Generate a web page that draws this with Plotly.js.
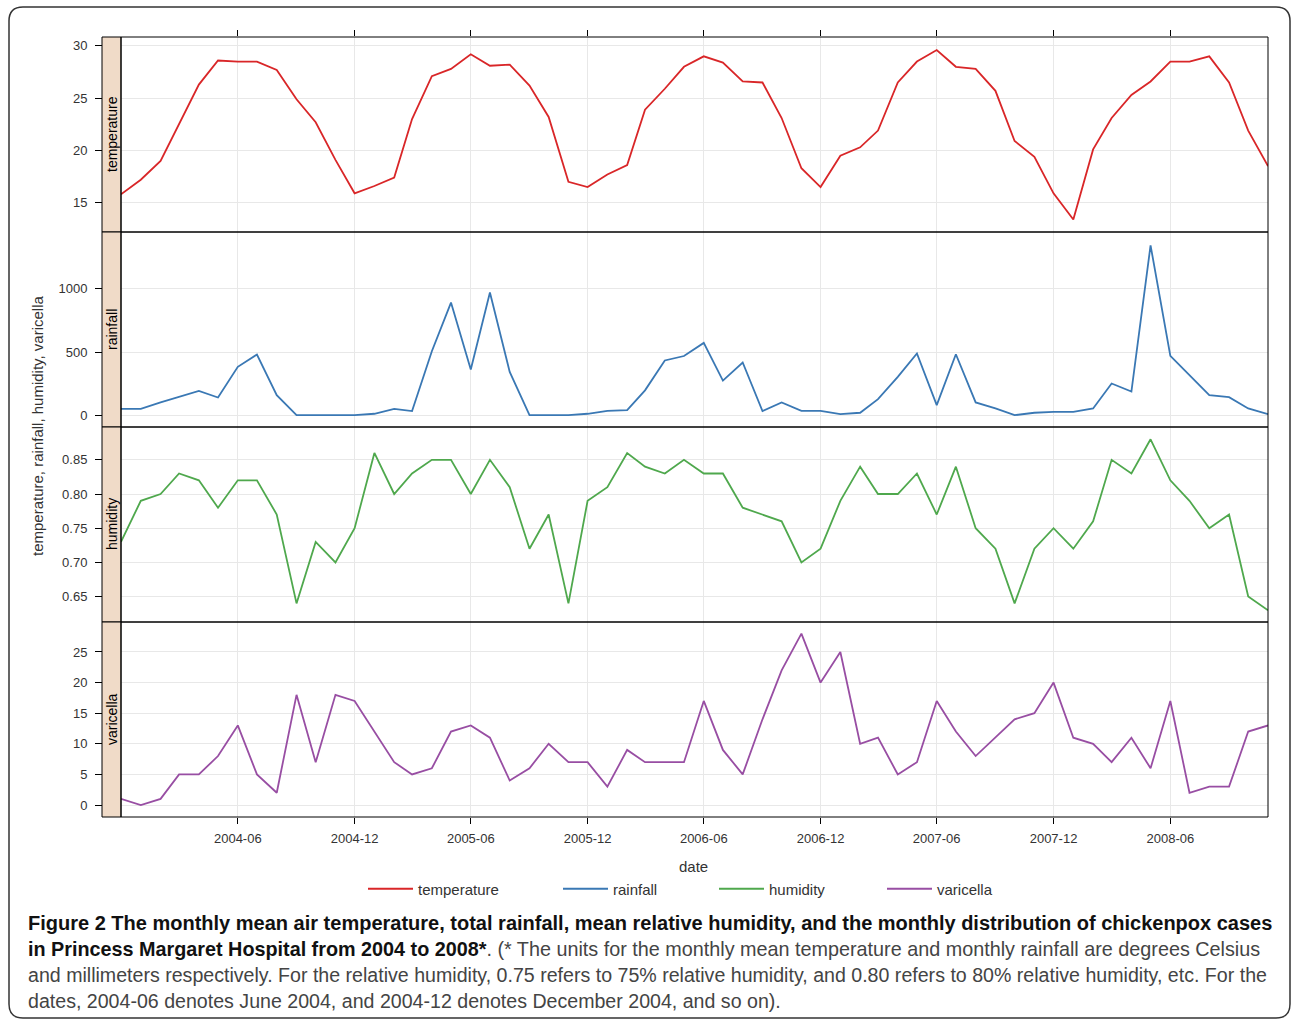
<!DOCTYPE html>
<html>
<head>
<meta charset="utf-8">
<script src="https://cdn.plot.ly/plotly-3.0.1.min.js"></script>
<style>
  html, body { margin: 0; padding: 0; background: #ffffff; }
  #chart { width: 1292px; height: 1021px; }
</style>
</head>
<body>
<div id="chart"></div>
<script>
// ---- data ----
const dates = [
  '2003-12-01','2004-01-01','2004-02-01','2004-03-01','2004-04-01','2004-05-01',
  '2004-06-01','2004-07-01','2004-08-01','2004-09-01','2004-10-01','2004-11-01',
  '2004-12-01','2005-01-01','2005-02-01','2005-03-01','2005-04-01','2005-05-01',
  '2005-06-01','2005-07-01','2005-08-01','2005-09-01','2005-10-01','2005-11-01',
  '2005-12-01','2006-01-01','2006-02-01','2006-03-01','2006-04-01','2006-05-01',
  '2006-06-01','2006-07-01','2006-08-01','2006-09-01','2006-10-01','2006-11-01',
  '2006-12-01','2007-01-01','2007-02-01','2007-03-01','2007-04-01','2007-05-01',
  '2007-06-01','2007-07-01','2007-08-01','2007-09-01','2007-10-01','2007-11-01',
  '2007-12-01','2008-01-01','2008-02-01','2008-03-01','2008-04-01','2008-05-01',
  '2008-06-01','2008-07-01','2008-08-01','2008-09-01','2008-10-01','2008-11-01'
];
const temperature = [
  15.8, 17.2, 19.0, 22.6, 26.3, 28.6, 28.5, 28.5, 27.7, 24.9, 22.7, 19.1,
  15.9, 16.6, 17.4, 23.0, 27.1, 27.8, 29.2, 28.1, 28.2, 26.2, 23.2, 17.0,
  16.5, 17.7, 18.6, 23.9, 25.9, 28.0, 29.0, 28.4, 26.6, 26.5, 23.1, 18.3,
  16.5, 19.5, 20.3, 21.9, 26.5, 28.5, 29.6, 28.0, 27.8, 25.7, 20.9, 19.4,
  15.9, 13.4, 20.1, 23.1, 25.3, 26.6, 28.5, 28.5, 29.0, 26.5, 21.9, 18.5
];
const rainfall = [
  55, 55, 105, 150, 196, 144, 385, 482, 162, 5, 5, 5,
  5, 16, 55, 37, 508, 890, 364, 969, 345, 5, 5, 5,
  16, 39, 45, 200, 435, 470, 573, 277, 419, 37, 105, 39,
  39, 13, 24, 131, 306, 490, 84, 484, 105, 58, 5, 24,
  31, 31, 58, 254, 191, 1340, 471, 319, 162, 147, 58, 13
];
const humidity = [
  0.73, 0.79, 0.80, 0.83, 0.82, 0.78, 0.82, 0.82, 0.77, 0.64, 0.73, 0.70,
  0.75, 0.86, 0.80, 0.83, 0.85, 0.85, 0.80, 0.85, 0.81, 0.72, 0.77, 0.64,
  0.79, 0.81, 0.86, 0.84, 0.83, 0.85, 0.83, 0.83, 0.78, 0.77, 0.76, 0.70,
  0.72, 0.79, 0.84, 0.80, 0.80, 0.83, 0.77, 0.84, 0.75, 0.72, 0.64, 0.72,
  0.75, 0.72, 0.76, 0.85, 0.83, 0.88, 0.82, 0.79, 0.75, 0.77, 0.65, 0.63
];
const varicella = [
  1, 0, 1, 5, 5, 8, 13, 5, 2, 18, 7, 18,
  17, 12, 7, 5, 6, 12, 13, 11, 4, 6, 10, 7,
  7, 3, 9, 7, 7, 7, 17, 9, 5, 14, 22, 28,
  20, 25, 10, 11, 5, 7, 17, 12, 8, 11, 14, 15,
  20, 11, 10, 7, 11, 6, 17, 2, 3, 3, 12, 13
];
const seriesNames = ['temperature', 'rainfall', 'humidity', 'varicella'];
const seriesColors = ['#D92628', '#3A78B4', '#4FA84D', '#984EA3'];
const dateTickVals = ['2004-06-01','2004-12-01','2005-06-01','2005-12-01','2006-06-01',
                      '2006-12-01','2007-06-01','2007-12-01','2008-06-01'];
const dateTickText = ['2004-06','2004-12','2005-06','2005-12','2006-06',
                      '2006-12','2007-06','2007-12','2008-06'];
const tempTicks = [15, 20, 25, 30];
const rainTicks = [0, 500, 1000];
const humTicks = [0.65, 0.70, 0.75, 0.80, 0.85];
const varTicks = [0, 5, 10, 15, 20, 25];
const captionLines = [
  '<b>Figure 2 The monthly mean air temperature, total rainfall, mean relative humidity, and the monthly distribution of chickenpox cases</b>',
  '<b>in Princess Margaret Hospital from 2004 to 2008*</b>. (* The units for the monthly mean temperature and monthly rainfall are degrees Celsius',
  'and millimeters respectively. For the relative humidity, 0.75 refers to 75% relative humidity, and 0.80 refers to 80% relative humidity, etc. For the',
  'dates, 2004-06 denotes June 2004, and 2004-12 denotes December 2004, and so on).'
];

// ---- geometry helpers (pixels -> paper) ----
const W = 1292, H = 1021;
const M = { l: 80, r: 24, t: 37, b: 204 };
const PW = W - M.l - M.r, PH = H - M.t - M.b;
const px = x => (x - M.l) / PW;
const py = y => (H - M.b - y) / PH;

const FONT = 'Liberation Sans, Arial, sans-serif';
const GRID = '#e8e8e8';

const traces = [
  { y: temperature, xaxis: 'x',  yaxis: 'y',  legend: 'legend'  },
  { y: rainfall,    xaxis: 'x2', yaxis: 'y2', legend: 'legend2' },
  { y: humidity,    xaxis: 'x3', yaxis: 'y3', legend: 'legend3' },
  { y: varicella,   xaxis: 'x4', yaxis: 'y4', legend: 'legend4' }
].map((t, i) => Object.assign({
  type: 'scatter', mode: 'lines', x: dates, name: seriesNames[i],
  line: { color: seriesColors[i], width: 1.8 }, showlegend: true,
  hoverinfo: 'x+y'
}, t));

const xRange = [dates[0], dates[dates.length - 1]];
const xDomain = [px(121), 1];
function xAxis(anchor, extra) {
  return Object.assign({
    type: 'date', range: xRange, domain: xDomain, anchor: anchor,
    tickvals: dateTickVals, ticktext: dateTickText,
    showgrid: true, gridcolor: GRID, gridwidth: 1,
    zeroline: false, showline: false, ticks: '', showticklabels: false,
    tickfont: { family: FONT, size: 13, color: '#333' }
  }, extra || {});
}
function yAxis(domain, range, ticks, extra) {
  return Object.assign({
    domain: domain, range: range, anchor: 'free', position: px(102), side: 'left',
    tickvals: ticks, ticks: 'outside', ticklen: 7, tickwidth: 1, tickcolor: '#000',
    ticklabelstandoff: 5,
    showgrid: true, gridcolor: GRID, gridwidth: 1,
    zeroline: false, showline: false,
    tickfont: { family: FONT, size: 13, color: '#333' }
  }, extra || {});
}

const panelDefs = [
  { y: 'y',  label: 'temperature' },
  { y: 'y2', label: 'rainfall' },
  { y: 'y3', label: 'humidity' },
  { y: 'y4', label: 'varicella' }
];

const shapes = [];
const annotations = [];
panelDefs.forEach((p) => {
  shapes.push({ type: 'rect', xref: 'paper', yref: p.y + ' domain',
    x0: px(102), x1: px(121), y0: 0, y1: 1,
    fillcolor: '#F0DBC8', line: { color: '#000', width: 1 }, layer: 'above' });
  shapes.push({ type: 'rect', xref: 'paper', yref: p.y + ' domain',
    x0: px(121), x1: 1, y0: 0, y1: 1,
    line: { color: '#000', width: 1 }, layer: 'above' });
  annotations.push({ xref: 'paper', yref: p.y + ' domain', x: px(111.5), y: 0.5,
    text: p.label, showarrow: false, textangle: -90,
    font: { family: FONT, size: 14, color: '#000' }, xanchor: 'center', yanchor: 'middle' });
});

// outer rounded frame
(function () {
  const L = 9, T = 7, R = 1290, B = 1018, r = 14;
  const P = (x, y) => px(x) + ',' + py(y);
  const d = 'M' + P(L + r, T) + ' L' + P(R - r, T) + ' Q' + P(R, T) + ' ' + P(R, T + r) +
            ' L' + P(R, B - r) + ' Q' + P(R, B) + ' ' + P(R - r, B) +
            ' L' + P(L + r, B) + ' Q' + P(L, B) + ' ' + P(L, B - r) +
            ' L' + P(L, T + r) + ' Q' + P(L, T) + ' ' + P(L + r, T) + ' Z';
  shapes.push({ type: 'path', xref: 'paper', yref: 'paper', path: d,
    line: { color: '#333', width: 1.5 }, layer: 'above' });
})();

// axis titles
annotations.push({ xref: 'paper', yref: 'paper', x: px(37), y: py(426),
  text: 'temperature, rainfall, humidity, varicella', showarrow: false, textangle: -90,
  font: { family: FONT, size: 15, color: '#333' }, xanchor: 'center', yanchor: 'middle' });
annotations.push({ xref: 'paper', yref: 'paper', x: px(693), y: py(866),
  text: 'date', showarrow: false,
  font: { family: FONT, size: 15, color: '#333' }, xanchor: 'center', yanchor: 'middle' });

// caption, one annotation per line
const captionY = [923, 949, 975, 1001];
const captionSize = [20, 19.8, 19.6, 19.6];
captionLines.forEach((t, i) => {
  annotations.push({ xref: 'paper', yref: 'paper', x: px(26), y: py(captionY[i]),
    xanchor: 'left', yanchor: 'middle', align: 'left', showarrow: false,
    font: { family: FONT, size: captionSize[i], color: i === 0 ? '#111' : '#444' },
    text: i === 1 ? t.replace('<b>', '<b><span style="color:#111">').replace('</b>', '</span></b>') : t
  });
});

function legendAt(xPix) {
  return { x: px(xPix), xanchor: 'left', y: py(889), yanchor: 'middle',
    orientation: 'h', bgcolor: 'rgba(0,0,0,0)', borderwidth: 0, itemwidth: 45,
    font: { family: FONT, size: 15, color: '#333' } };
}

const layout = {
  width: W, height: H, margin: M,
  paper_bgcolor: '#ffffff', plot_bgcolor: '#ffffff',
  showlegend: true,
  xaxis:  xAxis('y',  { side: 'top', ticks: 'outside', ticklen: 6, tickcolor: '#000' }),
  xaxis2: xAxis('y2', { matches: 'x' }),
  xaxis3: xAxis('y3', { matches: 'x' }),
  xaxis4: xAxis('y4', { matches: 'x', side: 'bottom', ticks: 'outside', ticklen: 6,
                        tickcolor: '#000', showticklabels: true, ticklabelstandoff: 3 }),
  yaxis:  yAxis([0.75, 1.0],  [12.2, 30.85], tempTicks),
  yaxis2: yAxis([0.5, 0.75],  [-88, 1445],   rainTicks),
  yaxis3: yAxis([0.25, 0.5],  [0.6128, 0.898], humTicks, { tickformat: '.2f' }),
  yaxis4: yAxis([0.0, 0.25],  [-1.96, 29.9], varTicks),
  legend:  legendAt(363),
  legend2: legendAt(558),
  legend3: legendAt(714),
  legend4: legendAt(882),
  shapes: shapes,
  annotations: annotations
};

Plotly.newPlot('chart', traces, layout, { displayModeBar: false, staticPlot: true });
</script>
</body>
</html>
